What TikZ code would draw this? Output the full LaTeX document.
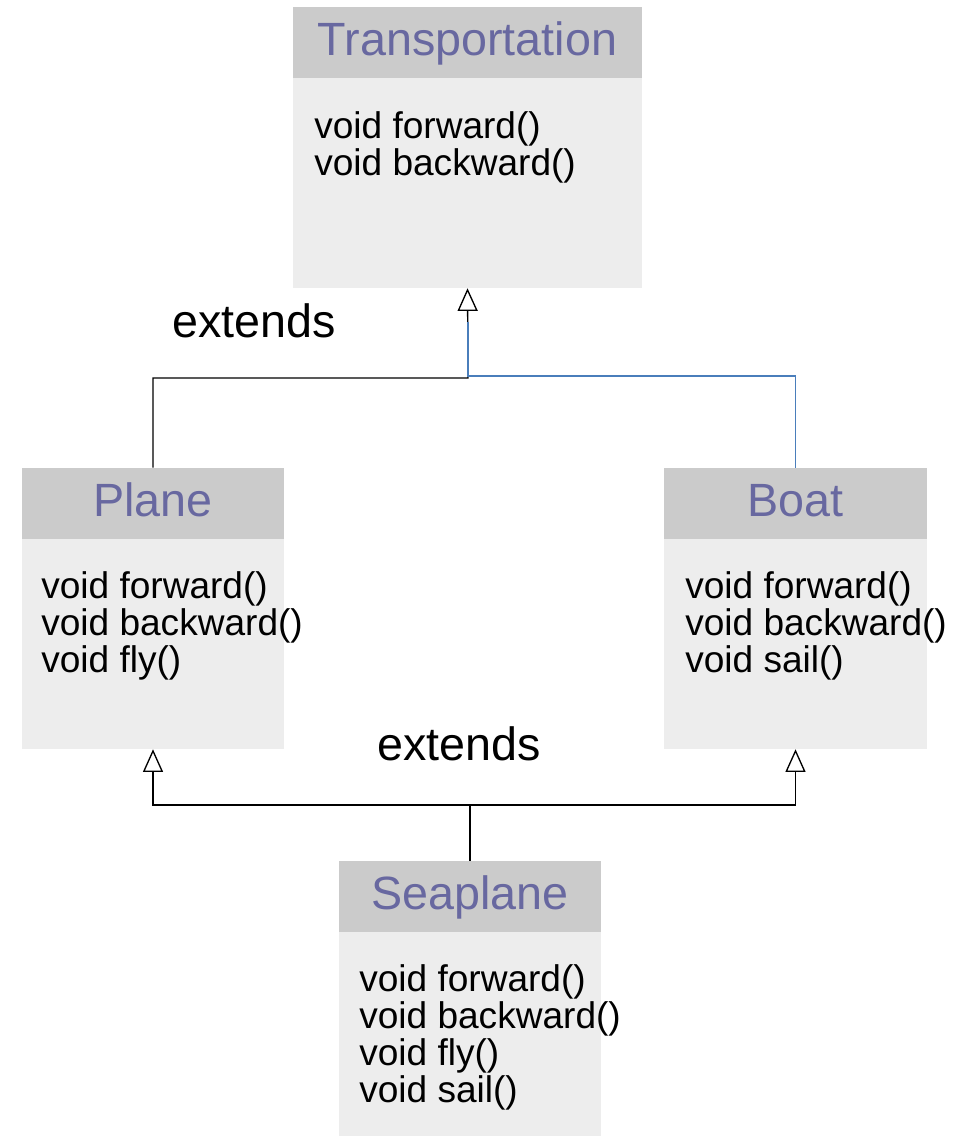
\documentclass[tikz,border=0pt]{standalone}
\usepackage{fontspec}
\setmainfont{Liberation Sans}
\usetikzlibrary{fit,arrows.meta}
\definecolor{hdrfill}{HTML}{CBCBCB}
\definecolor{bodyfill}{HTML}{EDEDED}
\definecolor{hdrtext}{HTML}{6868A0}
\definecolor{linkblue}{HTML}{4A7EBB}
\begin{document}
\begin{tikzpicture}[x=0.75pt,y=-0.75pt,
  hdr/.style={fill=hdrfill, inner sep=0pt, draw=none},
  bdy/.style={fill=bodyfill, inner sep=0pt, draw=none},
  htext/.style={text=hdrtext, font=\fontsize{35}{35}\selectfont, inner sep=0pt, anchor=base},
  btext/.style={font=\fontsize{27.8}{27.8}\selectfont, align=left, inner sep=0pt, anchor=north west},
  lbl/.style={font=\fontsize{35}{35}\selectfont, inner sep=0pt},
  inh/.style={draw=black, line width=1pt, -{Triangle[open, length=17pt, width=15pt, line width=1pt]}},
  plain/.style={draw=black, line width=1pt},
  bluelink/.style={draw=linkblue, line width=0.8pt},
]
\useasboundingbox (0,0) rectangle (961,1137);

% Transportation
\node[hdr, fit={(293,7) (642,78)}] (th) {};
\node[bdy, fit={(293,78) (642,288)}] (tb) {};
\node[htext] (thl) at (467.5,56) {Transportation};
\node[btext] (tbl) at (314,111) {void forward()\\void backward()};

% Plane
\node[hdr, fit={(22,468) (284,539)}] (ph) {};
\node[bdy, fit={(22,539) (284,749)}] (pb) {};
\node[htext] (phl) at (153,516) {Plane};
\node[btext] (pbl) at (41,571) {void forward()\\void backward()\\void fly()};

% Boat
\node[hdr, fit={(664,468) (927,539)}] (bh) {};
\node[bdy, fit={(664,539) (927,749)}] (bb) {};
\node[htext] (bhl) at (795.5,516) {Boat};
\node[btext] (bbl) at (685,571) {void forward()\\void backward()\\void sail()};

% Seaplane
\node[hdr, fit={(339,861) (601,932)}] (sh) {};
\node[bdy, fit={(339,932) (601,1136)}] (sb) {};
\node[htext] (shl) at (470,909) {Seaplane};
\node[btext] (sbl) at (359,964) {void forward()\\void backward()\\void fly()\\void sail()};

% labels
\node[lbl] (ext1) at (254,321) {extends};
\node[lbl] (ext2) at (459,744) {extends};

% connectors
\coordinate (j1) at (468,378);
\coordinate (j1b) at (468,376);
\coordinate (j1c) at (468,322);
\coordinate (j2) at (470,805);

\draw[inh] (ph.north) |- (j1) -- (tb.south);
\draw[bluelink] (bh.north) |- (j1b) -- (j1c);
\draw[plain] (sh.north) -- (j2);
\draw[inh] (j2) -| (pb.south);
\draw[inh] (j2) -| (bb.south);
\end{tikzpicture}
\end{document}
